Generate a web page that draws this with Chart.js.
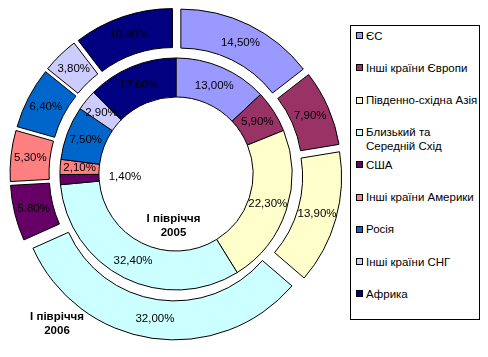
<!DOCTYPE html>
<html><head><meta charset="utf-8">
<script src="https://cdn.jsdelivr.net/npm/chart.js@4/dist/chart.umd.min.js"></script>
<style>
html,body{margin:0;padding:0;background:#fff;}
#wrap{position:relative;width:488px;height:357px;overflow:hidden;background:#fff;}
#c{position:absolute;left:0;top:0;}
#legend{position:absolute;left:350px;top:25px;width:130px;height:295px;box-sizing:border-box;border:1px solid #000;background:#fff;font-family:'Liberation Sans',Arial,sans-serif;font-size:11.5px;color:#000;}
.item{position:absolute;left:5px;white-space:pre;line-height:14px;}
.sw{position:absolute;left:0;top:3.5px;width:7px;height:7px;box-sizing:border-box;border:1px solid #000;}
.tx{position:absolute;left:10px;top:0;}
</style></head>
<body><div id="wrap"><canvas id="c" width="488" height="357"></canvas><div id="legend"></div></div>
<script>
// ---- data ----
const categories = ['ЄС', 'Інші країни Європи', 'Південно-східна Азія', 'Близький та\nСередній Схід', 'США', 'Інші країни Америки', 'Росія', 'Інші країни СНГ', 'Африка'];
const colors = ['#9999FF', '#993366', '#FFFFCC', '#CCFFFF', '#660066', '#FF8080', '#0066CC', '#CCCCFF', '#000080'];
const series2006 = [14.5, 7.9, 13.9, 32.0, 5.8, 5.3, 6.4, 3.8, 10.4];
const series2005 = [13.0, 5.9, 22.3, 32.4, 1.4, 2.1, 7.5, 2.9, 12.6];
const seriesNames = ['І півріччя\n2006', 'І півріччя\n2005'];

// ---- style ----
const FONT = "'Liberation Sans', Arial, sans-serif";
const EXPLODE = 11;           // outer ring explosion, px
const nameOffsets = [{dx: -119, dy: 150}, {dx: -2.5, dy: 52}];

// legend (HTML)
const lg = document.getElementById('legend');
categories.forEach((c, i) => {
  const it = document.createElement('div');
  it.className = 'item';
  it.style.top = (2.5 + 32.3 * i) + 'px';
  const sw = document.createElement('div'); sw.className = 'sw'; sw.style.background = colors[i];
  const tx = document.createElement('div'); tx.className = 'tx'; tx.textContent = c;
  it.appendChild(sw); it.appendChild(tx); lg.appendChild(it);
});

const explodePlugin = {
  id: 'explode',
  beforeDatasetDraw(chart, args) {
    if (args.index !== 0) return;
    const ctx = chart.ctx;
    args.meta.data.forEach(arc => {
      const mid = (arc.startAngle + arc.endAngle) / 2;
      ctx.save();
      ctx.translate(Math.cos(mid) * EXPLODE, Math.sin(mid) * EXPLODE);
      arc.draw(ctx);
      ctx.restore();
    });
    return false;
  }
};

const labelPlugin = {
  id: 'labels',
  afterDatasetsDraw(chart) {
    const ctx = chart.ctx;
    ctx.save();
    ctx.textAlign = 'center';
    ctx.textBaseline = 'middle';
    ctx.fillStyle = '#000';
    let cx = 0, cy = 0;
    chart.data.datasets.forEach((ds, di) => {
      const meta = chart.getDatasetMeta(di);
      ctx.font = '11.5px ' + FONT;
      meta.data.forEach((arc, i) => {
        const v = ds.data[i];
        const mid = (arc.startAngle + arc.endAngle) / 2;
        let r = (arc.innerRadius + arc.outerRadius) / 2 + (di === 0 ? EXPLODE : 0);
        if (v < 2) r = arc.innerRadius - 26;
        cx = arc.x; cy = arc.y;
        const x = arc.x + Math.cos(mid) * r;
        const y = arc.y + Math.sin(mid) * r;
        ctx.fillText(v.toFixed(2).replace('.', ',') + '%', x, y);
      });
    });
    ctx.font = 'bold 11.5px ' + FONT;
    seriesNames.forEach((n, di) => {
      const lines = n.split('\n');
      lines.forEach((ln, k) => {
        ctx.fillText(ln, cx + nameOffsets[di].dx, cy + nameOffsets[di].dy + (k - (lines.length - 1) / 2) * 14.5);
      });
    });
    ctx.restore();
  }
};

new Chart(document.getElementById('c'), {
  type: 'doughnut',
  data: {
    labels: categories,
    datasets: [
      {label: seriesNames[0], data: series2006, backgroundColor: colors, borderColor: '#000', borderWidth: 1, hoverOffset: 0},
      {label: seriesNames[1], data: series2005, backgroundColor: colors, borderColor: '#000', borderWidth: 1, hoverOffset: 0}
    ]
  },
  options: {
    responsive: false,
    devicePixelRatio: 1,
    animation: false,
    radius: 155,
    cutout: '49.7%',
    layout: {padding: {left: 0, right: 136, top: 0, bottom: 9}},
    plugins: {legend: {display: false}, tooltip: {enabled: false}}
  },
  plugins: [explodePlugin, labelPlugin]
});
</script>
</body></html>
